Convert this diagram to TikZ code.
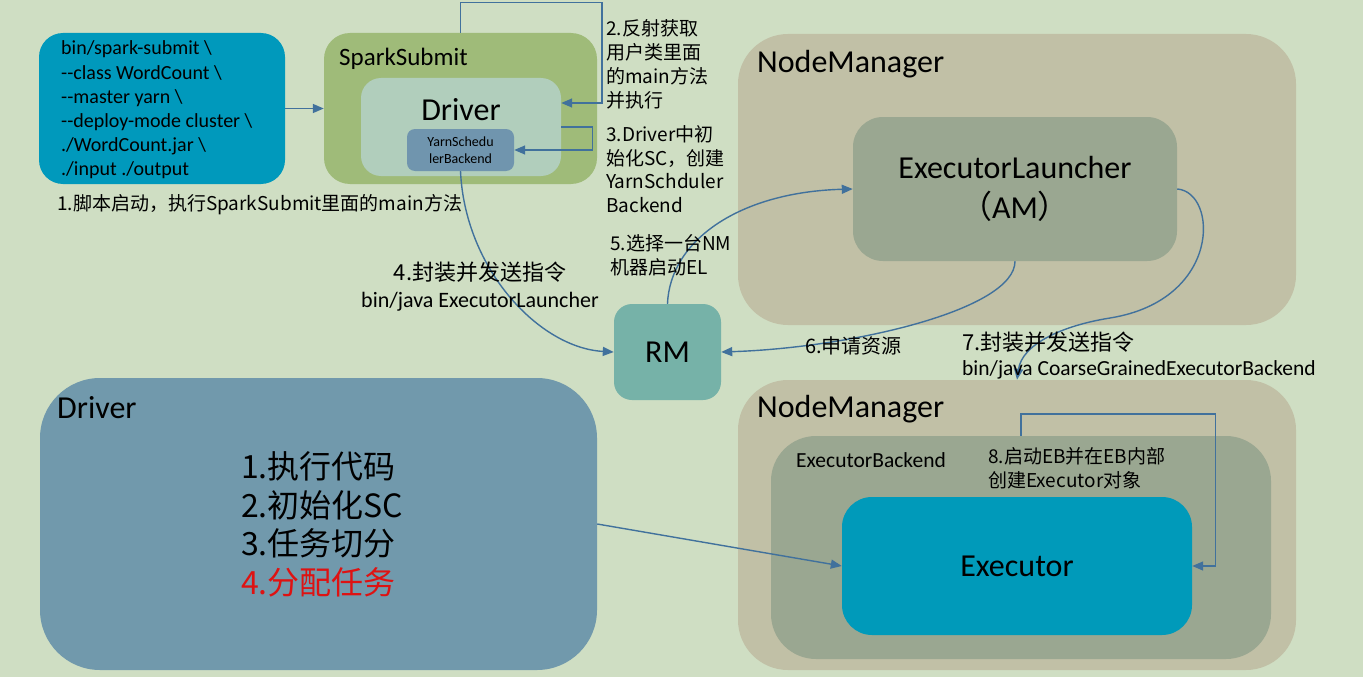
\documentclass[tikz,border=0pt]{standalone}
\usepackage{fontspec}
\setmainfont{Carlito}
\newfontfamily\cjk{Noto Sans CJK SC}
\newfontfamily\cmdfont{Carlito}[Ligatures=TeXOff]
\usetikzlibrary{positioning,arrows.meta}
\definecolor{bgc}{RGB}{207,222,195}
\definecolor{cmdc}{RGB}{0,153,188}
\definecolor{ssc}{RGB}{159,187,121}
\definecolor{drvinc}{RGB}{177,206,188}
\definecolor{yarnc}{RGB}{112,149,174}
\definecolor{nmc}{RGB}{193,192,166}
\definecolor{elc}{RGB}{154,167,145}
\definecolor{rmc}{RGB}{118,178,168}
\definecolor{exec}{RGB}{0,154,186}
\definecolor{drvc}{RGB}{113,153,172}
\definecolor{arrowc}{RGB}{65,113,156}
\definecolor{redc}{RGB}{222,18,18}

\begin{document}
\begin{tikzpicture}[x=1pt, y=-1pt,
  box/.style={inner sep=0, align=center},
  txt/.style={inner sep=0, anchor=west, align=left},
  arr/.style={draw=arrowc, line width=1.4pt, -{Triangle[length=11pt,width=9pt]}}]
\fill[bgc] (0,0) rectangle (1363,677);
\useasboundingbox (0,0) rectangle (1363,677);

\node[box, fill=cmdc, rounded corners=24pt, minimum width=246, minimum height=151] (cmd) at (162,108.5) {};
\node[box, fill=ssc, rounded corners=26pt, minimum width=273, minimum height=151] (ss) at (460.5,108.5) {};
\node[box, fill=drvinc, rounded corners=20pt, minimum width=200, minimum height=98] (drvin) at (461,127) {};
\node[box, fill=yarnc, rounded corners=8pt, minimum width=107, minimum height=42, font=\fontsize{14}{17}\selectfont] (yarn) at (460.5,150) {YarnSchedu\\lerBackend};
\node[box, fill=nmc, rounded corners=50pt, minimum width=558, minimum height=291] (nm1) at (1017,179.5) {};
\node[box, fill=elc, rounded corners=30pt, minimum width=324, minimum height=144, font=\fontsize{32}{40}\selectfont] (el) at (1015,189) {ExecutorLauncher\\{\cjk （}AM{\cjk ）}};
\node[box, fill=rmc, rounded corners=18pt, minimum width=107, minimum height=96, font=\fontsize{32}{38}\selectfont] (rm) at (667.5,352) {RM};
\node[box, fill=nmc, rounded corners=50pt, minimum width=558, minimum height=290] (nm2) at (1017,525) {};
\node[box, fill=elc, rounded corners=45pt, minimum width=500, minimum height=223] (eb) at (1021,547.5) {};
\node[box, fill=exec, rounded corners=30pt, minimum width=350, minimum height=138, font=\fontsize{32}{38}\selectfont] (exe) at (1017,566) {Executor};
\node[box, fill=drvc, rounded corners=60pt, minimum width=557, minimum height=292] (drv) at (318.5,524) {};

\node[txt, font=\cmdfont\fontsize{20}{24.2}\selectfont] (cmdt) at (61,110) {bin/spark-submit \textbackslash\\--class WordCount \textbackslash\\--master yarn \textbackslash\\--deploy-mode cluster \textbackslash\\./WordCount.jar \textbackslash\\./input ./output};
\node[txt, font=\fontsize{25}{30}\selectfont] (ssl) at (339,59) {SparkSubmit};
\node[font=\fontsize{32}{38}\selectfont] (drvinl) at (461,110) {Driver};
\node[txt, font=\fontsize{32}{38}\selectfont] (nm1l) at (757,64) {NodeManager};
\node[txt, font=\fontsize{32}{38}\selectfont] (nm2l) at (757,409) {NodeManager};
\node[txt, font=\fontsize{21.5}{26}\selectfont] (ebl) at (796,460) {ExecutorBackend};
\node[txt, font=\fontsize{32}{38}\selectfont] (drvl) at (57,408) {Driver};
\node[txt, font=\cjk\fontsize{32}{38.5}\selectfont] (tasks) at (241,524.5) {1.执行代码\\2.初始化SC\\3.任务切分\\{\color{redc}4.分配任务}};

\draw[arr] (cmd.east) -- (ss.west);
\draw[arr] (ss.north) -- ++(0,-30) -| (602,103) -- (drvin.east |- 0,103);
\draw[arr] (drvin.east) -- ++(31,0) |- (yarn.east);
\draw[arr] (yarn.south) .. controls (465,270) and (540,348) .. (rm.west);
\draw[arr] (rm.north) .. controls (670,240) and (740,192) .. (el.west);
\draw[arr] (el.south) .. controls (1015,310) and (850,348) .. (rm.east);
\draw[arr] (el.east) .. controls (1218,192) and (1222,300) .. (1110,318) .. controls (1060,326) and (1022,345) .. (nm2.north);
\draw[arr] (eb.north) -- ++(0,-22) -| ([xshift=23pt]exe.east) -- (exe.east);
\draw[arr] (drv.east) -- (exe.west);

\node[txt, font=\cjk\fontsize{19}{24}\selectfont] (lab1) at (57,205) {1.脚本启动，执行SparkSubmit里面的main方法};
\node[txt, font=\cjk\fontsize{19}{24}\selectfont] (lab2) at (606,64) {2.反射获取\\用户类里面\\的main方法\\并执行};
\node[txt, font=\cjk\fontsize{19}{23.7}\selectfont] (lab3) at (606,169) {3.Driver中初\\始化SC，创建\\YarnSchduler\\Backend};
\node[align=center, inner sep=0, font=\fontsize{22}{27}\selectfont] (lab4) at (480,286.5) {{\cjk 4.封装并发送指令}\\bin/java ExecutorLauncher};
\node[txt, font=\cjk\fontsize{19}{24}\selectfont] (lab5) at (610,255) {5.选择一台NM\\机器启动EL};
\node[txt, font=\cjk\fontsize{20}{24}\selectfont] (lab6) at (805,346) {6.申请资源};
\node[txt, font=\fontsize{21.5}{25}\selectfont] (lab7) at (962,355.5) {{\cjk\fontsize{22}{25}\selectfont 7.封装并发送指令}\\bin/java CoarseGrainedExecutorBackend};
\node[txt, font=\cjk\fontsize{19}{24}\selectfont] (lab8) at (988,468) {8.启动EB并在EB内部\\创建Executor对象};
\end{tikzpicture}
\end{document}
